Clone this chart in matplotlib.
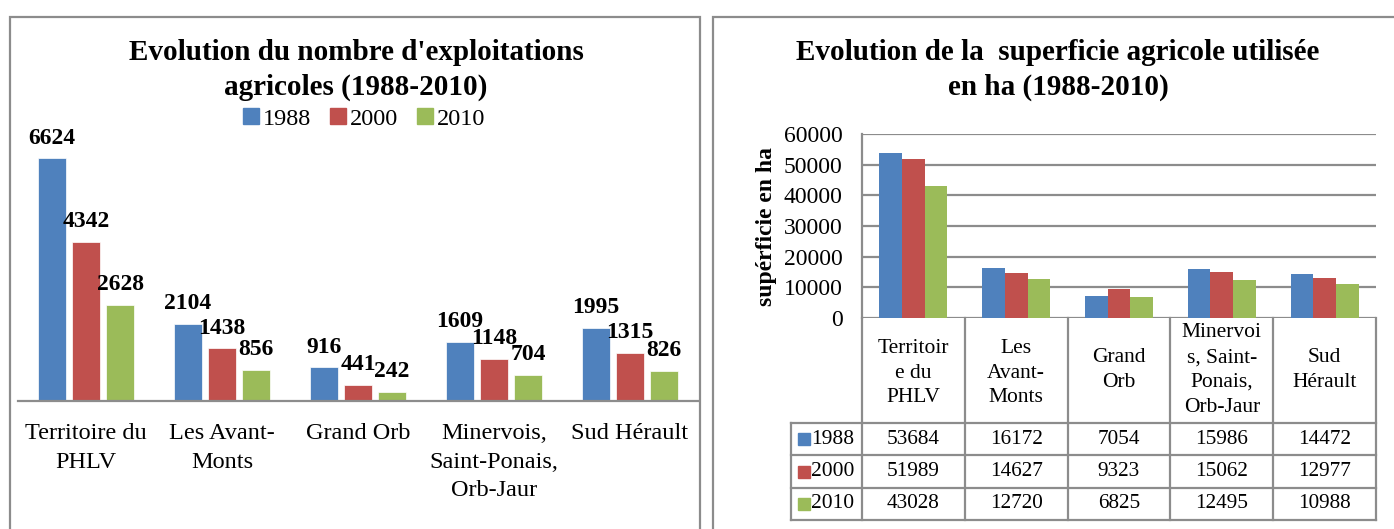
import numpy as np
import matplotlib.pyplot as plt
from matplotlib.patches import Rectangle, Patch

plt.rcParams['font.family'] = ['Liberation Serif', 'DejaVu Serif']

years = ['1988', '2000', '2010']
colors = ['#4F81BD', '#C0504D', '#9BBB59']

# left chart: number of farms
cat_left = ['Territoire du\nPHLV', 'Les Avant-\nMonts', 'Grand Orb',
            'Minervois,\nSaint-Ponais,\nOrb-Jaur', 'Sud Hérault']
expl_1988 = [6624, 2104, 916, 1609, 1995]
expl_2000 = [4342, 1438, 441, 1148, 1315]
expl_2010 = [2628, 856, 242, 704, 826]

# right chart: utilised agricultural area (ha)
cat_right = ['Territoir\ne du\nPHLV', 'Les\nAvant-\nMonts', 'Grand\nOrb',
             'Minervoi\ns, Saint-\nPonais,\nOrb-Jaur', 'Sud\nHérault']
sau_1988 = [53684, 16172, 7054, 15986, 14472]
sau_2000 = [51989, 14627, 9323, 15062, 12977]
sau_2010 = [43028, 12720, 6825, 12495, 10988]
yticks_right = [0, 10000, 20000, 30000, 40000, 50000, 60000]

W, H = 1394, 529
fig = plt.figure(figsize=(W / 100, H / 100), dpi=100)


def px_axes(l, t, r, b):
    return fig.add_axes([l / W, 1 - b / H, (r - l) / W, (b - t) / H])


def px(x, y):
    return x / W, 1 - y / H


grey = '#8C8C8C'
# panel borders
for (l, t, r, b) in [(10, 17, 700, 540), (713, 17, 1400, 540)]:
    fig.patches.append(Rectangle(px(l, b), (r - l) / W, (b - t) / H,
                                 transform=fig.transFigure, fill=False,
                                 edgecolor=grey, linewidth=1.6))

# ---------------- left chart ----------------
ax = px_axes(18, 130, 698, 401)
x = np.arange(len(cat_left))
series_left = [expl_1988, expl_2000, expl_2010]
for i, vals in enumerate(series_left):
    ax.bar(x + (i - 1) * 0.25, vals, width=0.2, color=colors[i],
           edgecolor='white', linewidth=0.5)
    for xb, v in zip(x + (i - 1) * 0.25, vals):
        ax.annotate(str(v), (xb, v), xytext=(0, 7), textcoords='offset points',
                    ha='center', va='bottom', fontsize=17, fontweight='bold')
ax.set_xlim(-0.5, 4.5)
ax.set_ylim(0, 7400)
ax.set_yticks([])
ax.set_xticks(x)
ax.set_xticklabels(cat_left, fontsize=17.5, linespacing=1.47)
ax.tick_params(axis='x', length=0, pad=16)
for s in ['top', 'right', 'left']:
    ax.spines[s].set_visible(False)
ax.spines['bottom'].set_color(grey)
ax.spines['bottom'].set_linewidth(1.6)
ax.patch.set_alpha(0)

fig.text(*px(356, 70), "Evolution du nombre d'exploitations\nagricoles (1988-2010)",
         ha='center', va='center', fontsize=21, fontweight='bold', linespacing=1.4)
handles = [Patch(color=c) for c in colors]
fig.legend(handles, years, loc='center', bbox_to_anchor=px(364, 119), ncol=3,
           frameon=False, fontsize=17.5, handlelength=0.65, handleheight=0.65,
           handletextpad=0.15, columnspacing=0.8)

# ---------------- right chart ----------------
ax2 = px_axes(862, 134, 1376, 318)
series_right = [sau_1988, sau_2000, sau_2010]
for i, vals in enumerate(series_right):
    ax2.bar(x + (i - 1) * 0.22, vals, width=0.22, color=colors[i])
ax2.set_xlim(-0.5, 4.5)
ax2.set_ylim(0, 60000)
ax2.set_yticks(yticks_right)
ax2.set_yticklabels([str(v) for v in yticks_right], fontsize=17)
ax2.set_xticks([])
ax2.tick_params(axis='y', length=0, pad=14)
ax2.yaxis.grid(True, color=grey, linewidth=1.6)
ax2.set_axisbelow(True)
for s in ['top', 'right', 'bottom']:
    ax2.spines[s].set_visible(False)
ax2.spines['left'].set_color(grey)
ax2.spines['left'].set_linewidth(1.6)
ax2.set_ylabel('supérficie en ha', fontsize=17, fontweight='bold', labelpad=5)

fig.text(*px(1058, 70), "Evolution de la  superficie agricole utilisée\nen ha (1988-2010)",
         ha='center', va='center', fontsize=21, fontweight='bold', linespacing=1.4)

# data table under the right chart
tab = px_axes(791, 318, 1376, 520)
tab.set_xlim(-1.19, 4.5)
tab.set_ylim(520, 318)
tab.axis('off')
row_y = [423, 455, 488, 520]
lw = 1.6
for yy in row_y:
    tab.plot([-1.19, 4.5], [yy, yy], color=grey, lw=lw, clip_on=False)
for k in range(len(cat_right) + 1):
    tab.plot([k - 0.5, k - 0.5], [318, 520], color=grey, lw=lw, clip_on=False)
tab.plot([-1.19, -1.19], [423, 520], color=grey, lw=lw, clip_on=False)
for k, name in enumerate(cat_right):
    yc_head = 373 if name.count('\n') == 2 else 370
    tab.text(k, yc_head, name, ha='center', va='center', fontsize=15.5, linespacing=1.42)
for r, vals in enumerate(series_right):
    yc = (row_y[r] + row_y[r + 1]) / 2
    tab.add_patch(Rectangle((-1.12, yc - 6), 0.115, 12, color=colors[r]))
    tab.text(-0.995, yc, years[r], ha='left', va='center', fontsize=15.5)
    for k, v in enumerate(vals):
        tab.text(k, yc, str(v), ha='center', va='center', fontsize=15.3)

plt.savefig('out.png', dpi=100)
